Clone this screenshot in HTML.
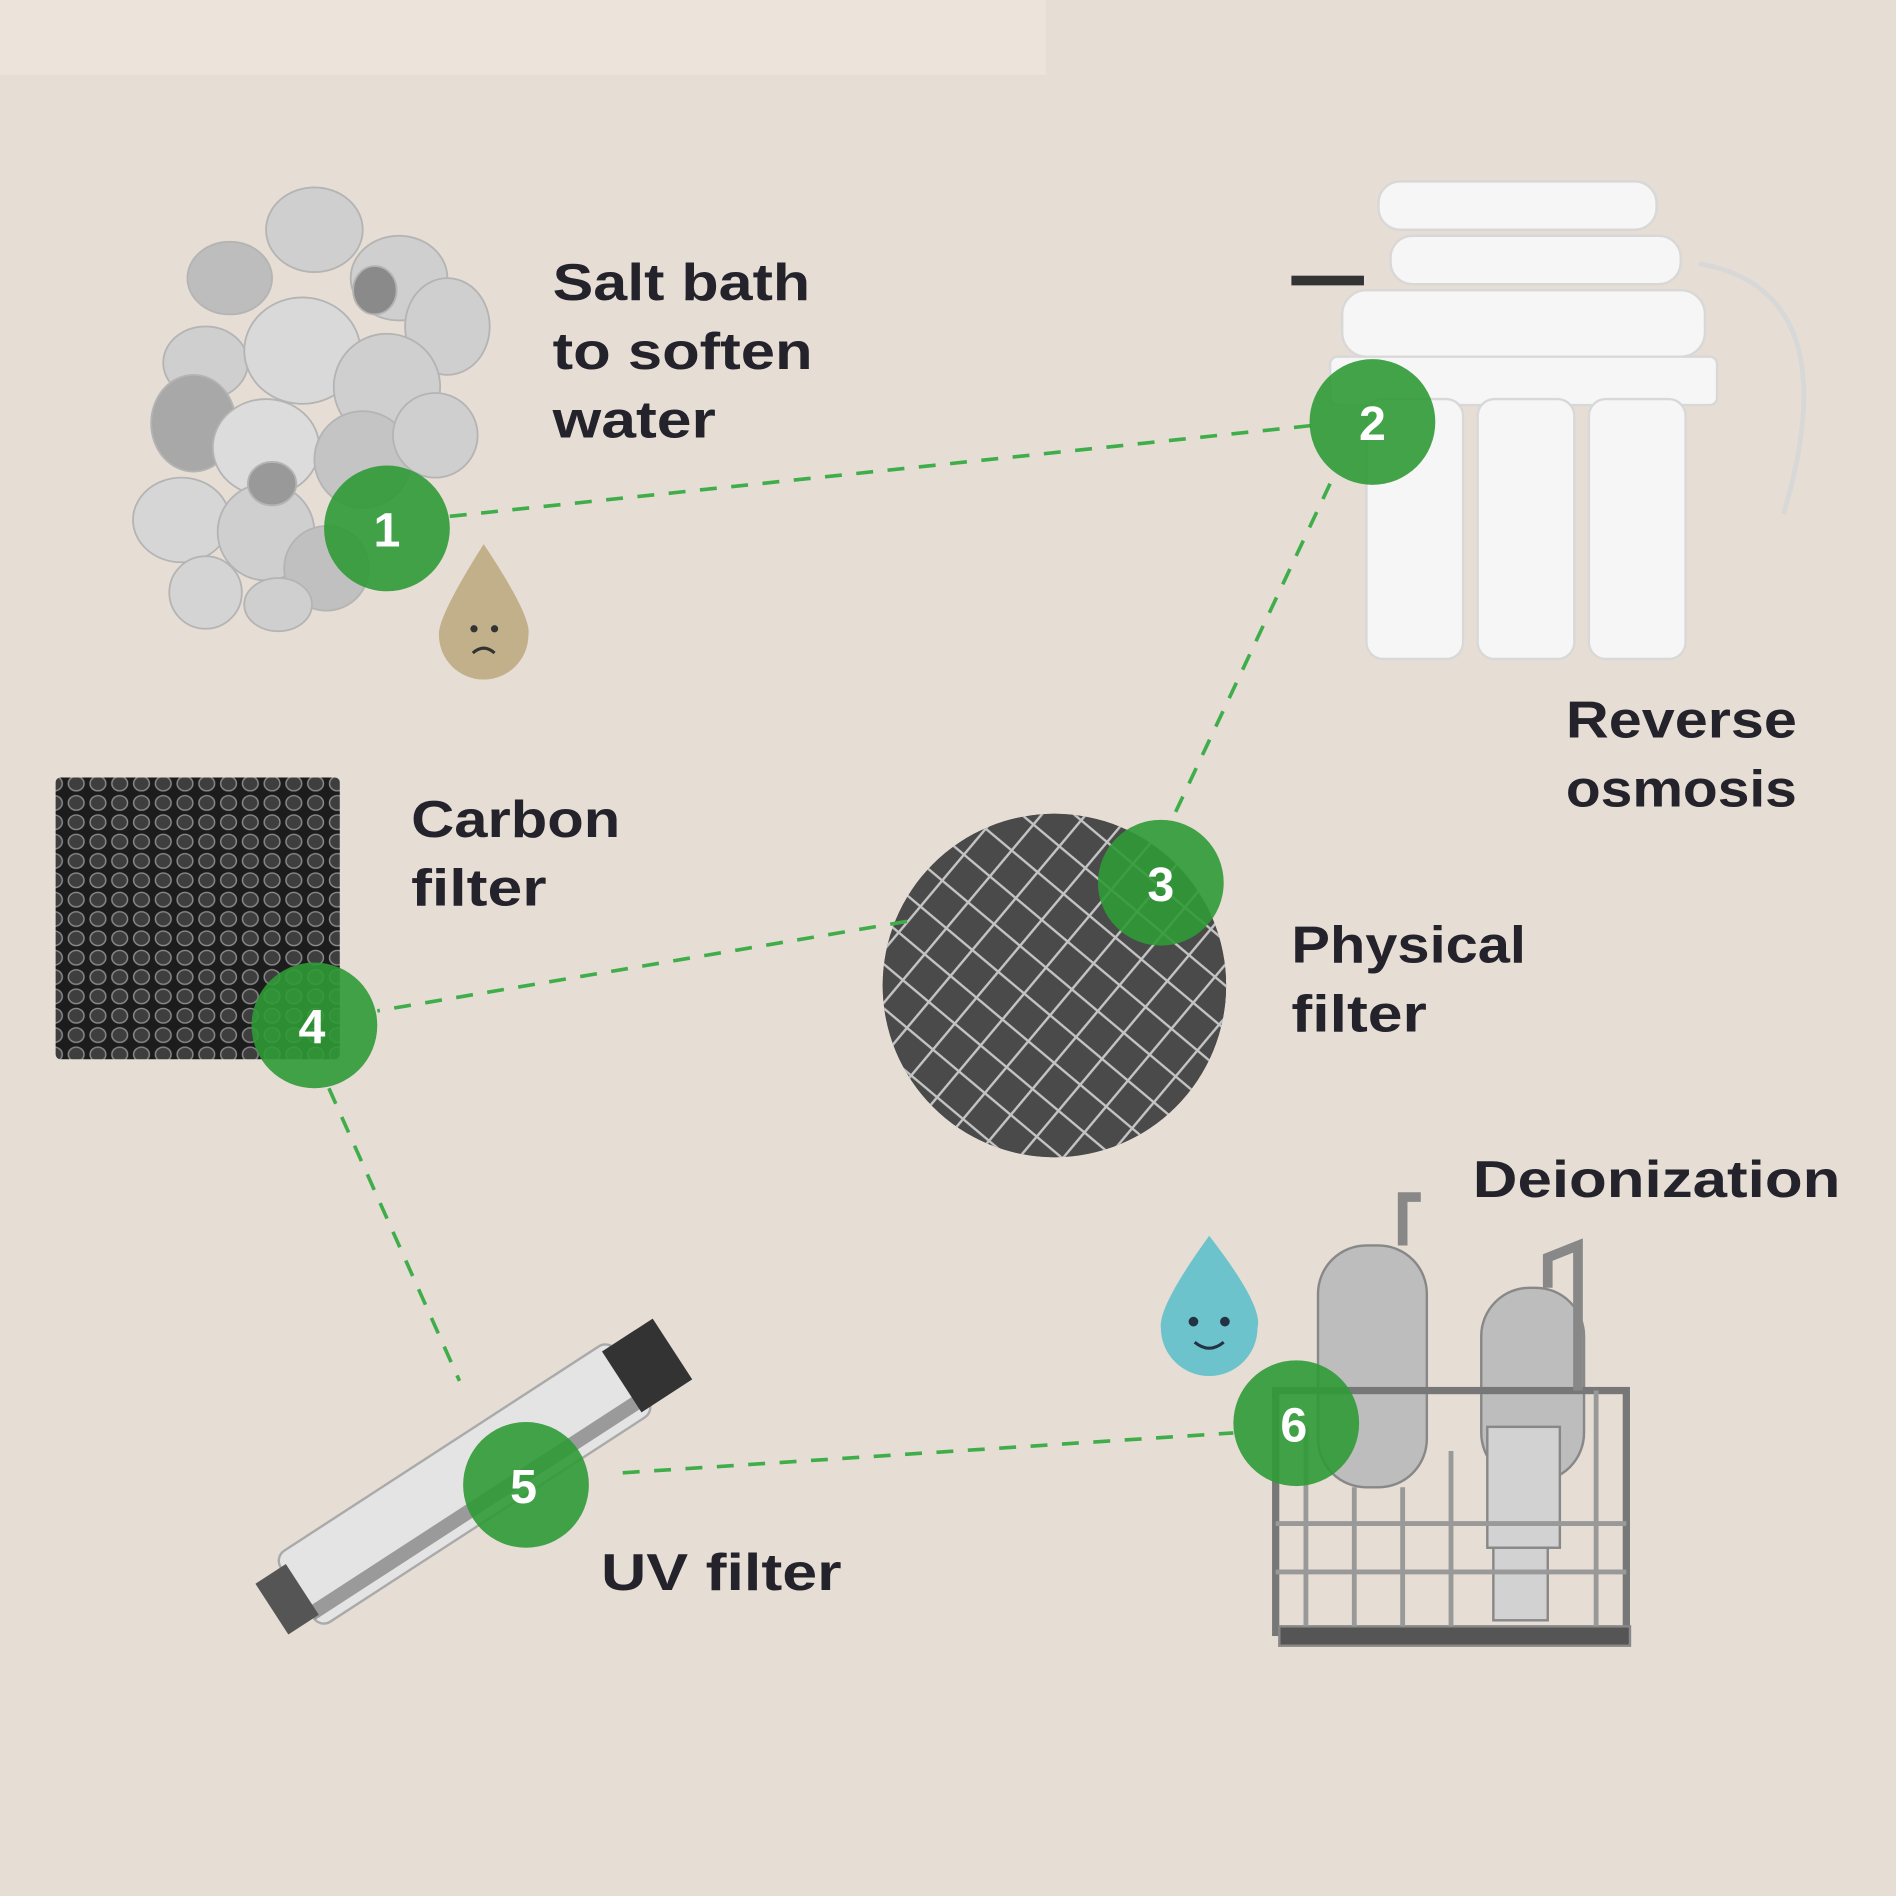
<!DOCTYPE html>
<html><head><meta charset="utf-8"><style>
html,body{margin:0;padding:0;background:#e6ddd5}
svg{display:block}
text{font-family:"Liberation Sans",sans-serif;font-weight:bold}
</style></head><body>
<svg width="1896" height="1896" viewBox="0 0 1568 1568" xmlns="http://www.w3.org/2000/svg">
<defs>
<pattern id="hex" width="18" height="16" patternUnits="userSpaceOnUse">
<rect width="18" height="16" fill="#1c1c1c"/>
<ellipse cx="9" cy="8" rx="6.5" ry="6" fill="#3e3e3e" stroke="#8a8a8a" stroke-width="1.2"/>
</pattern>
<pattern id="mesh" width="28" height="28" patternUnits="userSpaceOnUse" patternTransform="rotate(40)">
<rect width="28" height="28" fill="#4a4a4a"/>
<path d="M0 0 L28 0 M0 0 L0 28" stroke="#c4c4c4" stroke-width="4"/>
</pattern>
<clipPath id="mc"><circle cx="872" cy="815" r="142"/></clipPath>
</defs>
<rect width="1568" height="1568" fill="#e6ddd5"/>
<rect x="0" y="0" width="865" height="62" fill="#ece3da"/>

<!-- salt -->
<g fill="#cfcfcf" stroke="#b4b4b4" stroke-width="1.5">
<ellipse cx="260" cy="190" rx="40" ry="35"/><ellipse cx="190" cy="230" rx="35" ry="30" fill="#bdbdbd"/>
<ellipse cx="330" cy="230" rx="40" ry="35"/><ellipse cx="370" cy="270" rx="35" ry="40"/>
<ellipse cx="170" cy="300" rx="35" ry="30"/><ellipse cx="250" cy="290" rx="48" ry="44" fill="#d9d9d9"/>
<ellipse cx="320" cy="320" rx="44" ry="44"/><ellipse cx="160" cy="350" rx="35" ry="40" fill="#a8a8a8"/>
<ellipse cx="220" cy="370" rx="44" ry="40" fill="#dcdcdc"/><ellipse cx="300" cy="380" rx="40" ry="40" fill="#c4c4c4"/>
<ellipse cx="360" cy="360" rx="35" ry="35"/><ellipse cx="150" cy="430" rx="40" ry="35" fill="#d6d6d6"/>
<ellipse cx="220" cy="440" rx="40" ry="40"/><ellipse cx="270" cy="470" rx="35" ry="35" fill="#c0c0c0"/>
<ellipse cx="170" cy="490" rx="30" ry="30" fill="#d4d4d4"/><ellipse cx="230" cy="500" rx="28" ry="22"/>
<ellipse cx="310" cy="240" rx="18" ry="20" fill="#8a8a8a"/><ellipse cx="225" cy="400" rx="20" ry="18" fill="#999"/>
</g>
<!-- sad drop -->
<path d="M400 450 Q440 510 437 525 A37 37 0 1 1 363 525 Q362 510 400 450Z" fill="#c2b08a"/>
<circle cx="392" cy="520" r="3" fill="#333"/><circle cx="409" cy="520" r="3" fill="#333"/>
<path d="M391 540 Q400 532 409 540" stroke="#333" stroke-width="2.5" fill="none"/>

<!-- RO unit -->
<g fill="#f6f6f6" stroke="#d8d8d8" stroke-width="2">
<rect x="1140" y="150" width="230" height="40" rx="18"/>
<rect x="1150" y="195" width="240" height="40" rx="18"/>
<rect x="1110" y="240" width="300" height="55" rx="20"/>
<rect x="1100" y="295" width="320" height="40" rx="6"/>
<rect x="1130" y="330" width="80" height="215" rx="14"/>
<rect x="1222" y="330" width="80" height="215" rx="14"/>
<rect x="1314" y="330" width="80" height="215" rx="14"/>
</g>
<path d="M1405 218 Q1530 240 1475 425" stroke="#d8d8d8" stroke-width="4" fill="none"/>
<rect x="1068" y="228" width="60" height="8" fill="#333"/>

<!-- carbon -->
<rect x="46" y="643" width="235" height="233" rx="4" fill="url(#hex)"/>

<!-- mesh -->
<circle cx="872" cy="815" r="142" fill="#4a4a4a"/>
<g clip-path="url(#mc)"><rect x="700" y="650" width="350" height="350" fill="url(#mesh)"/></g>

<!-- UV -->
<g transform="rotate(-33 380 1230)">
<rect x="220" y="1195" width="330" height="70" rx="10" fill="#e4e4e4" stroke="#aaa" stroke-width="2"/>
<rect x="220" y="1245" width="330" height="12" fill="#9a9a9a"/>
<rect x="540" y="1200" width="50" height="60" fill="#333"/>
<rect x="195" y="1205" width="30" height="50" fill="#555"/>
</g>

<!-- happy drop -->
<path d="M1000 1022 Q1045 1080 1040 1098 A40 40 0 1 1 960 1098 Q958 1080 1000 1022Z" fill="#6dc3cc"/>
<circle cx="987" cy="1093" r="4" fill="#234"/><circle cx="1013" cy="1093" r="4" fill="#234"/>
<path d="M988 1110 Q1000 1120 1012 1110" stroke="#234" stroke-width="2.5" fill="none"/>

<!-- deionization -->
<g fill="#bdbdbd" stroke="#888" stroke-width="2">
<rect x="1090" y="1030" width="90" height="200" rx="40"/>
<rect x="1225" y="1065" width="85" height="160" rx="40"/>
<rect x="1055" y="1150" width="290" height="200" fill="none" stroke="#777" stroke-width="6"/>
<rect x="1230" y="1180" width="60" height="100" fill="#d2d2d2"/>
<rect x="1235" y="1280" width="45" height="60" fill="#d2d2d2"/>
<rect x="1058" y="1345" width="290" height="16" fill="#555"/>
</g>
<path d="M1160 1030 L1160 990 L1175 990 M1280 1065 L1280 1040 L1305 1030 L1305 1150" stroke="#888" stroke-width="8" fill="none"/>
<g stroke="#999" stroke-width="4"><line x1="1080" y1="1180" x2="1080" y2="1345"/><line x1="1120" y1="1230" x2="1120" y2="1345"/><line x1="1160" y1="1230" x2="1160" y2="1345"/><line x1="1200" y1="1200" x2="1200" y2="1345"/><line x1="1320" y1="1150" x2="1320" y2="1345"/><line x1="1055" y1="1260" x2="1345" y2="1260"/><line x1="1055" y1="1300" x2="1345" y2="1300"/></g>

<!-- dashed connectors -->
<g stroke="#3fae4a" stroke-width="3" stroke-dasharray="14 12" fill="none">
<line x1="372" y1="427" x2="1084" y2="352"/>
<line x1="1100" y1="400" x2="972" y2="672"/>
<line x1="750" y1="762" x2="312" y2="836"/>
<line x1="272" y1="900" x2="380" y2="1142"/>
<line x1="515" y1="1218" x2="1020" y2="1185"/>
</g>

<!-- number circles -->
<g fill="#2f9a36" fill-opacity="0.9">
<circle cx="320" cy="437" r="52"/><circle cx="1135" cy="349" r="52"/><circle cx="960" cy="730" r="52"/>
<circle cx="260" cy="848" r="52"/><circle cx="435" cy="1228" r="52"/><circle cx="1072" cy="1177" r="52"/>
</g>
<g fill="#fff" font-size="40" text-anchor="middle">
<text x="320" y="452">1</text><text x="1135" y="364">2</text><text x="960" y="745">3</text>
<text x="258" y="863">4</text><text x="433" y="1243">5</text><text x="1070" y="1192">6</text>
</g>

<!-- labels -->
<g fill="#24232c" font-size="43">
<text x="457" y="248" textLength="213" lengthAdjust="spacingAndGlyphs">Salt bath</text>
<text x="457" y="305" textLength="215" lengthAdjust="spacingAndGlyphs">to soften</text>
<text x="457" y="362" textLength="135" lengthAdjust="spacingAndGlyphs">water</text>
<text x="1295" y="610" textLength="191" lengthAdjust="spacingAndGlyphs">Reverse</text>
<text x="1295" y="667" textLength="191" lengthAdjust="spacingAndGlyphs">osmosis</text>
<text x="340" y="692" textLength="173" lengthAdjust="spacingAndGlyphs">Carbon</text>
<text x="340" y="749" textLength="112" lengthAdjust="spacingAndGlyphs">filter</text>
<text x="1068" y="796" textLength="194" lengthAdjust="spacingAndGlyphs">Physical</text>
<text x="1068" y="853" textLength="112" lengthAdjust="spacingAndGlyphs">filter</text>
<text x="1218" y="990" textLength="304" lengthAdjust="spacingAndGlyphs">Deionization</text>
<text x="497" y="1315" textLength="199" lengthAdjust="spacingAndGlyphs">UV filter</text>
</g>
</svg>
</body></html>
